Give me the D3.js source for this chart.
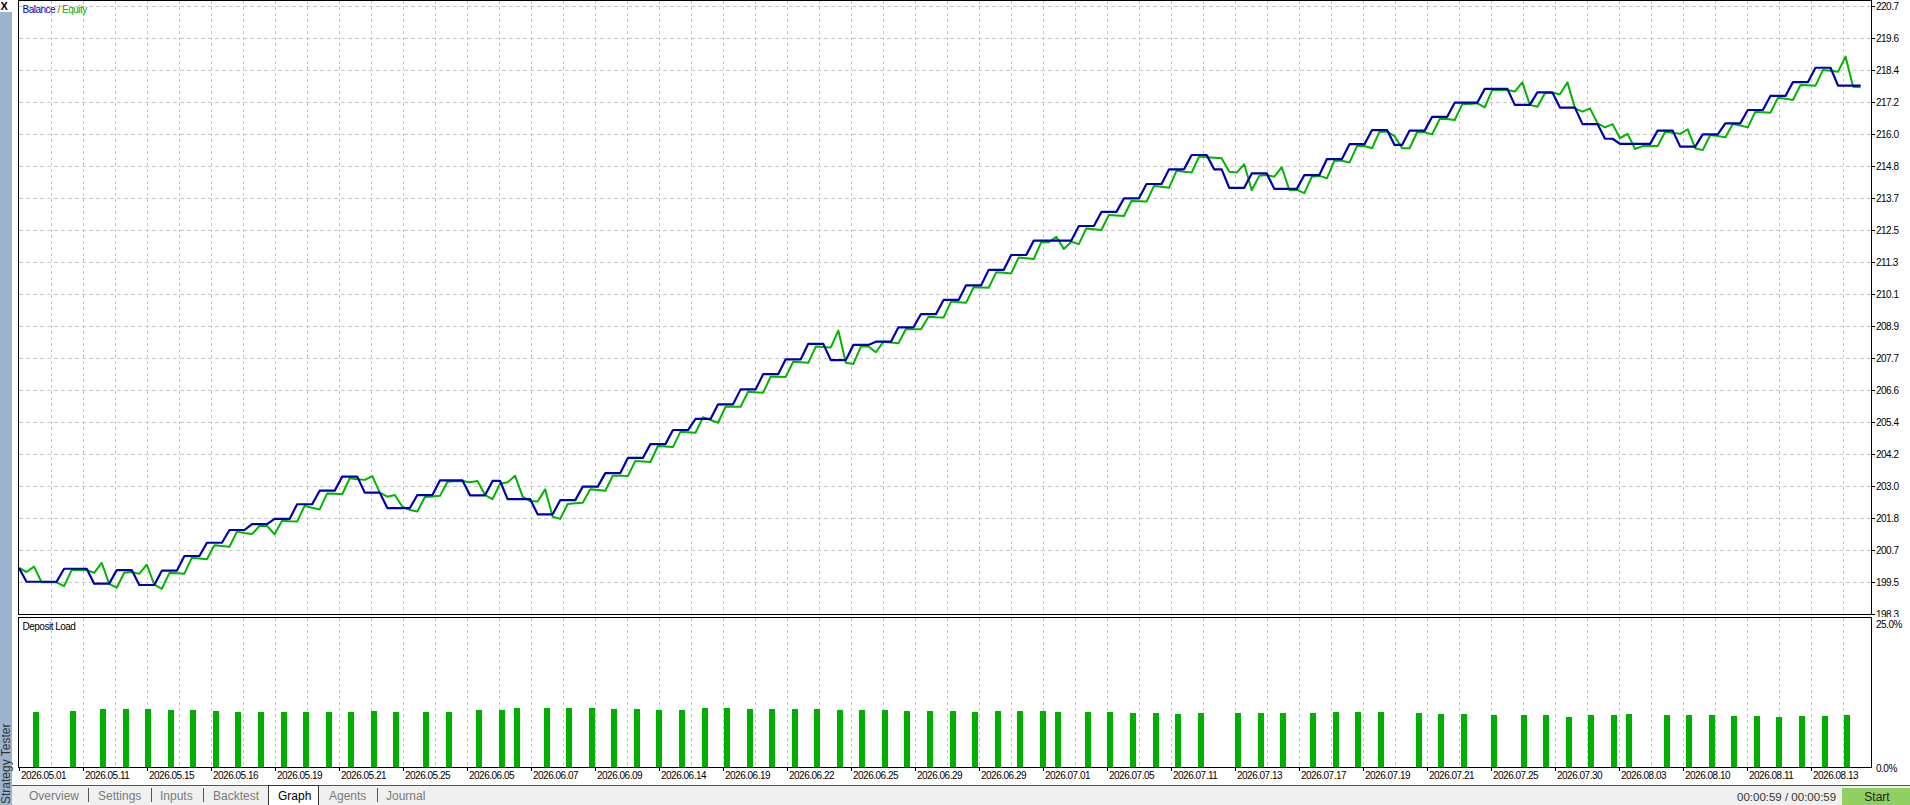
<!DOCTYPE html>
<html><head><meta charset="utf-8">
<script src="https://cdn.jsdelivr.net/npm/d3@7"></script>
<style>
html,body{margin:0;padding:0;background:#fff;overflow:hidden;}
svg{display:block;}
text{font-family:"Liberation Sans",Arial,sans-serif;}
</style></head><body>
<svg id="c" width="1910" height="805"></svg>
<script>
// ---------------- data ----------------
const balance = [
200.00,199.49,199.49,199.49,199.49,199.49,199.97,199.97,199.97,199.97,
199.42,199.42,199.42,199.92,199.92,199.92,199.37,199.37,199.37,199.90,
199.90,199.90,200.44,200.44,200.44,200.93,200.93,200.93,201.40,201.40,
201.40,201.62,201.62,201.62,201.81,201.81,201.81,202.35,202.35,202.35,
202.85,202.85,202.85,203.37,203.37,203.37,202.78,202.78,202.78,202.21,
202.21,202.21,202.21,202.69,202.69,202.69,203.23,203.23,203.23,203.23,
202.68,202.68,202.68,203.21,203.21,202.54,202.54,202.54,202.54,201.98,
201.98,201.98,202.50,202.50,202.50,203.00,203.00,203.00,203.50,203.50,
203.50,204.06,204.06,204.06,204.57,204.57,204.57,205.09,205.09,205.09,
205.50,205.50,205.50,206.04,206.04,206.04,206.59,206.59,206.59,207.15,
207.15,207.15,207.70,207.70,207.70,208.27,208.27,208.27,207.67,207.67,
207.67,208.23,208.23,208.23,208.35,208.35,208.35,208.88,208.88,208.88,
209.37,209.37,209.37,209.89,209.89,209.89,210.43,210.43,210.43,211.00,
211.00,211.00,211.55,211.55,211.55,212.08,212.08,212.08,212.08,212.08,
212.08,212.62,212.62,212.62,213.14,213.14,213.14,213.64,213.64,213.64,
214.17,214.17,214.17,214.71,214.71,214.71,215.24,215.24,215.24,214.71,
214.71,214.03,214.03,214.03,214.56,214.56,214.56,213.99,213.99,213.99,
213.99,214.50,214.50,214.50,215.09,215.09,215.09,215.64,215.64,215.64,
216.16,216.16,216.16,215.61,215.61,216.14,216.14,216.14,216.65,216.65,
216.65,217.17,217.17,217.17,217.17,217.68,217.68,217.68,217.68,217.09,
217.09,217.09,217.55,217.55,217.55,216.99,216.99,216.99,216.38,216.38,
216.38,215.84,215.84,215.65,215.65,215.65,215.65,215.65,216.14,216.14,
216.14,215.55,215.55,215.55,216.00,216.00,216.00,216.41,216.41,216.41,
216.90,216.90,216.90,217.42,217.42,217.42,217.93,217.93,217.93,218.46,
218.46,218.46,217.80,217.80,217.80,217.80];

const equity = [
200.00,199.85,200.05,199.47,199.47,199.47,199.33,199.92,199.92,199.92,
199.82,200.19,199.41,199.27,199.82,199.85,199.78,200.12,199.38,199.23,
199.81,199.80,199.79,200.38,200.35,200.32,200.84,200.81,200.78,201.34,
201.29,201.25,201.55,201.55,201.24,201.74,201.72,201.71,202.29,202.22,
202.16,202.75,202.74,202.72,203.31,203.27,203.25,203.39,202.78,202.63,
202.69,202.26,202.14,202.08,202.62,202.64,202.66,203.18,203.20,203.21,
203.16,203.21,202.69,202.54,203.11,203.16,203.40,202.63,202.47,202.45,
202.90,201.89,201.81,202.36,202.39,202.41,202.90,202.88,202.85,203.40,
203.40,203.39,203.95,203.93,203.91,204.50,204.48,204.46,205.03,205.01,
204.99,205.56,205.46,205.36,205.95,205.95,205.95,206.50,206.48,206.47,
207.06,207.06,207.05,207.61,207.59,207.57,208.17,208.15,208.14,208.76,
207.57,207.53,208.17,208.17,207.96,208.35,208.32,208.29,208.82,208.81,
208.81,209.27,209.25,209.24,209.83,209.81,209.79,210.36,210.35,210.34,
210.91,210.89,210.87,211.46,211.43,211.40,212.02,212.02,212.22,211.77,
212.04,211.95,212.53,212.50,212.47,213.03,213.01,212.99,213.54,213.53,
213.52,214.10,214.07,214.03,214.66,214.62,214.59,215.18,215.16,215.14,
215.12,214.62,214.59,214.90,213.94,214.47,214.50,214.44,214.79,213.95,
213.95,213.83,214.44,214.47,214.38,215.03,215.03,214.96,215.57,215.57,
215.49,216.10,216.10,215.94,215.49,215.49,216.08,216.08,216.00,216.57,
216.57,216.53,217.11,217.12,217.15,217.00,217.64,217.64,217.64,217.58,
217.92,217.09,217.02,217.52,217.54,217.48,217.92,216.96,216.84,216.96,
216.41,216.26,216.38,215.86,216.02,215.46,215.57,215.57,215.57,216.10,
216.06,216.02,216.19,215.49,215.42,215.98,215.94,215.89,216.38,216.33,
216.26,216.84,216.82,216.80,217.35,217.32,217.27,217.82,217.81,217.80,
218.38,218.35,218.31,218.87,217.76,217.74];

const loadIndex = [2,7,11,14,17,20,23,26,29,32,35,38,41,44,47,50,54,57,61,64,
66,70,73,76,79,82,85,88,91,94,97,100,103,106,109,112,115,118,121,124,
127,130,133,136,138,142,145,148,151,154,157,162,165,168,172,175,178,181,186,189,
192,196,200,203,206,209,212,214,219,222,225,228,231,234,237,240,243];
const loadValue = [9.48,9.66,10.00,10.00,10.00,9.83,9.83,9.66,9.48,9.48,9.48,9.48,9.48,9.48,9.66,9.48,9.48,9.48,9.83,9.83,
10.17,10.17,10.17,10.17,10.00,10.00,9.83,9.83,10.17,10.17,10.00,10.00,10.00,10.00,9.83,9.83,9.83,9.66,9.66,9.66,
9.48,9.66,9.66,9.66,9.48,9.48,9.48,9.31,9.31,9.14,9.31,9.31,9.31,9.31,9.31,9.48,9.48,9.48,9.31,9.14,
9.14,8.97,8.97,8.97,8.62,8.97,8.97,9.14,8.97,8.97,8.97,8.79,8.79,8.62,8.79,8.79,8.97];

const dateLabels = ["2026.05.01","2026.05.11","2026.05.15","2026.05.16","2026.05.19","2026.05.21","2026.05.25",
"2026.06.05","2026.06.07","2026.06.09","2026.06.14","2026.06.19","2026.06.22","2026.06.25","2026.06.29","2026.06.29",
"2026.07.01","2026.07.05","2026.07.11","2026.07.13","2026.07.17","2026.07.19","2026.07.21","2026.07.25","2026.07.30",
"2026.08.03","2026.08.10","2026.08.11","2026.08.13"];
const yTickLabels = ["198.3","199.5","200.7","201.8","203.0","204.2","205.4","206.6","207.7","208.9",
"210.1","211.3","212.5","213.7","214.8","216.0","217.2","218.4","219.6","220.7"];
const yRange = [198.30, 220.739];
const loadTickLabels = ["0.0%","25.0%"];
const loadRange = [0, 25];
const tabNames = ["Overview","Settings","Inputs","Backtest","Graph","Agents","Journal"];
const tabX = [29,98,160,213,278,329,386];
const seps = [88,151,203,377];

// ---------------- layout ----------------
const svg = d3.select("#c");
const PR = 1871;
const x = d3.scaleLinear().domain([0, balance.length - 1]).range([19, 1860.6]);
const y = d3.scaleLinear().domain(yRange).range([614, 6]);
const yl = d3.scaleLinear().domain(loadRange).range([767, 622]);
const lx = d3.scaleLinear().domain([0, dateLabels.length - 1]).range([19, 1811]);
const gridCol = "#c8c8c8";

svg.append("rect").attr("width",1910).attr("height",805).attr("fill","#fff");

// bottom tab strip
svg.append("rect").attr("x",12).attr("y",785).attr("width",1898).attr("height",20).attr("fill","#f0f0f0");
svg.append("line").attr("x1",12).attr("x2",1910).attr("y1",785.5).attr("y2",785.5).attr("stroke","#555");

// grid: vertical
const vg = d3.range(1, 58).map(k => k / 2);
const gridG = svg.append("g").attr("shape-rendering","crispEdges");
gridG.selectAll(".vu").data(vg).join("line")
  .attr("x1", d => Math.round(lx(d)) + 0.5).attr("x2", d => Math.round(lx(d)) + 0.5)
  .attr("y1", 1).attr("y2", 614).attr("stroke", gridCol).attr("stroke-dasharray","3,3");
gridG.selectAll(".vl").data(vg).join("line")
  .attr("x1", d => Math.round(lx(d)) + 0.5).attr("x2", d => Math.round(lx(d)) + 0.5)
  .attr("y1", 618).attr("y2", 767).attr("stroke", gridCol).attr("stroke-dasharray","3,3");
// grid: horizontal
const yStep = (yRange[1] - yRange[0]) / (yTickLabels.length - 1);
const yTickVals = yTickLabels.map((t, i) => yRange[0] + i * yStep);
gridG.selectAll(".hg").data(yTickVals.slice(1)).join("line")
  .attr("x1", 19).attr("x2", PR).attr("y1", d => Math.round(y(d)) + 0.5).attr("y2", d => Math.round(y(d)) + 0.5)
  .attr("stroke", gridCol).attr("stroke-dasharray","4,3");

// lines
const line = d3.line().x((d, i) => x(i)).y(d => y(d));
svg.append("path").datum(equity).attr("d", line).attr("fill","none")
  .attr("stroke","#00b400").attr("stroke-width",2).attr("stroke-linejoin","round");
svg.append("path").datum(balance).attr("d", line).attr("fill","none")
  .attr("stroke","#0000b0").attr("stroke-width",2.2).attr("stroke-linejoin","round");

// bars
svg.append("g").attr("shape-rendering","crispEdges").selectAll("rect").data(loadIndex).join("rect")
  .attr("x", d => Math.round(x(d) - 1.5)).attr("width", 6)
  .attr("y", (d, i) => Math.round(yl(loadValue[i]))).attr("height", (d, i) => 767 - Math.round(yl(loadValue[i])))
  .attr("fill","#00b000");

// frames
const fr = svg.append("g").attr("fill","none").attr("stroke","#000").attr("shape-rendering","crispEdges");
fr.append("rect").attr("x",18.5).attr("y",0.5).attr("width",PR - 18).attr("height",614);
fr.append("rect").attr("x",18.5).attr("y",617.5).attr("width",PR - 18).attr("height",150);

// y axis labels (upper)
svg.append("clipPath").attr("id","cu").append("rect").attr("x",1860).attr("y",0).attr("width",60).attr("height",617);
const ya = svg.append("g").attr("clip-path","url(#cu)");
ya.selectAll("line").data(yTickVals).join("line")
  .attr("x1",PR).attr("x2",PR+4).attr("y1",d => Math.round(y(d)) + 0.5).attr("y2",d => Math.round(y(d)) + 0.5)
  .attr("stroke","#000").attr("shape-rendering","crispEdges");
ya.selectAll("text").data(yTickLabels).join("text")
  .attr("x",1876).attr("y",(d,i) => y(yTickVals[i]) + 3.6)
  .attr("font-size",10).attr("letter-spacing","-0.5").attr("fill","#000").text(d => d);

// lower axis labels
svg.selectAll(".ll").data(loadTickLabels).join("text")
  .attr("x",1876).attr("y",(d,i) => yl(i === 0 ? loadRange[0] : loadRange[1]) + 3.6 + (i===0?1:2))
  .attr("font-size",10).attr("letter-spacing","-0.5").attr("fill","#000").text(d => d);

// x axis labels
const xa = svg.append("g");
xa.selectAll("line").data(dateLabels).join("line")
  .attr("x1",(d,i) => Math.round(lx(i)) + 0.5).attr("x2",(d,i) => Math.round(lx(i)) + 0.5)
  .attr("y1",767).attr("y2",771).attr("stroke","#000").attr("shape-rendering","crispEdges");
xa.selectAll("text").data(dateLabels).join("text")
  .attr("x",(d,i) => lx(i) + 2).attr("y",779)
  .attr("font-size",10).attr("letter-spacing","-0.5").attr("fill","#000").text(d => d);

// legend
const lg = svg.append("text").attr("x",22.5).attr("y",12.5).attr("font-size",10).attr("letter-spacing","-0.5");
lg.append("tspan").attr("fill","#0000c8").text("Balance");
lg.append("tspan").attr("fill","#606060").text(" / ");
lg.append("tspan").attr("fill","#00b000").text("Equity");
svg.append("text").attr("x",22.5).attr("y",629.5).attr("font-size",10).attr("letter-spacing","-0.5").attr("fill","#000").text("Deposit Load");

// left sidebar
svg.append("rect").attr("x",0).attr("y",12).attr("width",12).attr("height",793).attr("fill","#9db4d0");
svg.append("text").attr("x",0.5).attr("y",10).attr("font-size",11).attr("font-weight","bold").attr("fill","#000").text("X");
svg.append("text").attr("transform","translate(10,804) rotate(-90)").attr("font-size",12).attr("fill","#333").text("Strategy Tester");

// tabs
svg.append("rect").attr("x",268.5).attr("y",785.5).attr("width",50).attr("height",20).attr("fill","#fff").attr("stroke","#333");
svg.selectAll(".tab").data(tabNames).join("text")
  .attr("x",(d,i) => tabX[i]).attr("y",799.5).attr("font-size",12)
  .attr("fill",d => d === "Graph" ? "#000" : "#7a7a7a").text(d => d);
svg.selectAll(".sep").data(seps).join("line")
  .attr("x1",d => d + 0.5).attr("x2",d => d + 0.5).attr("y1",788).attr("y2",802).attr("stroke","#555").attr("shape-rendering","crispEdges");

// status
svg.append("text").attr("x",1737).attr("y",801).attr("font-size",11.5).attr("fill","#333").text("00:00:59 / 00:00:59");
svg.append("rect").attr("x",1842).attr("y",788).attr("width",68).attr("height",17).attr("fill","#92cf63");
svg.append("text").attr("x",1877).attr("y",801).attr("text-anchor","middle").attr("font-size",12).attr("fill","#222").text("Start");
</script>
</body></html>
